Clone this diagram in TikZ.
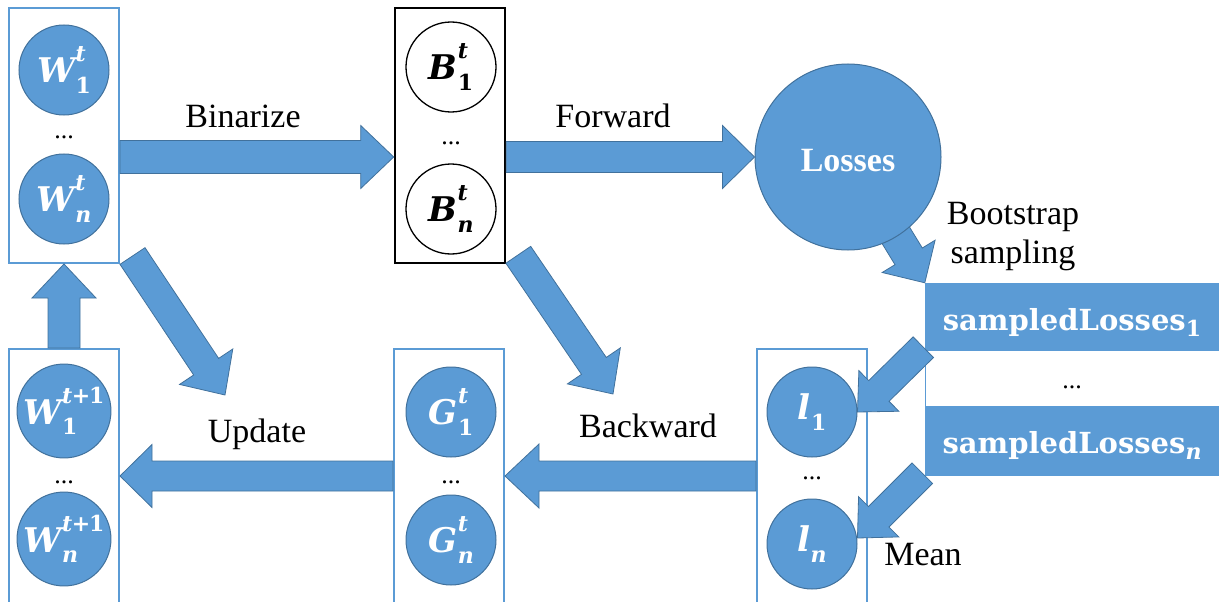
\documentclass[tikz,border=0pt]{standalone}
\usepackage{fontspec}
\setmainfont{Liberation Serif}
\newfontfamily\mfont{DejaVu Serif}
\usetikzlibrary{calc}

\definecolor{fillblue}{HTML}{5B9BD5}
\definecolor{edgeblue}{HTML}{41719C}
\definecolor{frameblue}{HTML}{5B9BD5}

% variable with superscript and subscript stacked on the right
\newcommand\mv[3]{%
  {\bfseries\itshape #1}\kern0.5pt
  \sbox0{\fontsize{22}{26}\selectfont\bfseries\itshape #2}%
  \sbox2{\fontsize{22}{26}\selectfont\bfseries\upshape #3}%
  \rlap{\raisebox{0.62em}{\usebox0}}\rlap{\raisebox{-0.3em}{\usebox2}}%
  \ifdim\wd0>\wd2 \kern\wd0\else\kern\wd2\fi}
\newcommand\plusone{\upshape\kern-0.5pt+\kern-1pt1}

% fat block arrow: from, to, shaft half width, head half width, head length
\newcommand\blockarrow[5]{%
  \coordinate (ba-s) at (#1);
  \coordinate (ba-t) at (#2);
  \coordinate (ba-h) at ($(ba-t)!#5!(ba-s)$);
  \filldraw[fatarrow]
    ($(ba-s)!#3!90:(ba-t)$) -- ($(ba-h)!#3!90:(ba-t)$) -- ($(ba-h)!#4!90:(ba-t)$)
    -- (ba-t) -- ($(ba-h)!#4!-90:(ba-t)$) -- ($(ba-h)!#3!-90:(ba-t)$)
    -- ($(ba-s)!#3!-90:(ba-t)$) -- cycle;}

\tikzset{
  colbox/.style={draw=frameblue, line width=2pt, minimum width=110pt, inner sep=0pt},
  binbox/.style={draw=black, line width=2.6pt, minimum width=110pt, inner sep=0pt},
  bcirc/.style={circle, fill=fillblue, draw=edgeblue, line width=1pt, minimum size=90pt,
    inner sep=0pt, text=white, font=\mfont\fontsize{34}{40}\selectfont},
  wcirc/.style={circle, draw=black, line width=1.3pt, minimum size=90pt,
    inner sep=0pt, text=black, font=\mfont\fontsize{34}{40}\selectfont},
  dotsnode/.style={inner sep=0pt, font=\fontsize{26}{30}\selectfont},
  lbl/.style={inner sep=0pt, anchor=base, font=\fontsize{34}{40}\selectfont},
  sampbox/.style={fill=fillblue, minimum width=294pt, inner sep=0pt, text=white,
    font=\mfont\bfseries\fontsize{29}{34}\selectfont},
  fatarrow/.style={fill=fillblue, draw=edgeblue, line width=0.8pt, line join=miter},
}

\begin{document}
\begin{tikzpicture}[x=1pt,y=-1pt]
\useasboundingbox (0,0) rectangle (1219,602);
\clip (0,0) rectangle (1219,602);

\coordinate (ytop) at (0,157);
\coordinate (ybot) at (0,476);

% column frames
\node[colbox, minimum height=255pt] (wtbox) at (64,135.5) {};
\node[binbox, minimum height=255pt] (bbox) at (450,135.5) {};
\node[colbox, minimum height=261pt] (wnbox) at (64,479.5) {};
\node[colbox, minimum height=261pt] (gbox) at (449,479.5) {};
\node[colbox, minimum height=261pt] (lbox) at (812,479.5) {};

% weights at step t
\node[bcirc] (wt1) at (64,70) {\mv{W}{t}{1}};
\node[dotsnode] (wtd) at (64,137) {...};
\node[bcirc] (wtn) at (64,199) {\mv{W}{t}{\itshape n}};

% binarized weights
\node[wcirc] (b1) at (451,67) {\mv{B}{t}{1}};
\node[dotsnode] (bd) at (451,143) {...};
\node[wcirc] (bn) at (451,209) {\mv{B}{t}{\itshape n}};

% weights at step t+1
\node[bcirc] (w11) at (64,411) {\mv{W}{t\plusone}{1}};
\node[dotsnode] (w1d) at (64,482) {...};
\node[bcirc] (w1n) at (64,539) {\mv{W}{t\plusone}{\itshape n}};

% gradients
\node[bcirc] (g1) at (451,412) {\mv{G}{t}{1}};
\node[dotsnode] (gd) at (451,482) {...};
\node[bcirc] (gn) at (451,540) {\mv{G}{t}{\itshape n}};

% per-sample losses
\node[bcirc] (l1) at (812,412) {\mv{l}{}{1}};
\node[dotsnode] (ld) at (812,478) {...};
\node[bcirc] (ln) at (812,544) {\mv{l}{}{\itshape n}};

% bootstrap samples
\node[sampbox, minimum height=67pt, text height=30pt, text depth=3pt] (s1) at (1072,316.5)
  {sampledLosses\raisebox{-0.22em}{\fontsize{22}{26}\selectfont 1}};
\node[draw=frameblue, line width=1pt, minimum width=294pt, minimum height=56pt, inner sep=0pt] (smid) at (1072,378) {};
\node[dotsnode] (sd) at (1072,387) {...};
\node[sampbox, minimum height=70pt, text height=27pt, text depth=3pt] (s2) at (1072,441)
  {sampledLosses\raisebox{-0.22em}{\fontsize{22}{26}\selectfont\itshape n}};

% loss node with the sampling arrow leaving it
\coordinate (lossc) at (848,157);
\blockarrow{lossc}{s1.north west}{16pt}{31pt}{31pt}
\node[bcirc, minimum size=186pt, text height=28pt, text depth=0pt,
  font=\bfseries\fontsize{34}{40}\selectfont] (loss) at (lossc) {Losses};

% flow arrows
\blockarrow{wtbox.east |- ytop}{bbox.west |- ytop}{16.5pt}{31.5pt}{33pt}
\blockarrow{bbox.east |- ytop}{loss.west}{15.5pt}{31.5pt}{32pt}
\blockarrow{wnbox.north}{wtbox.south}{16pt}{32pt}{34pt}
\coordinate (wupd) at (225,395);
\blockarrow{$(wtbox.south east)+(12.5,-8)$}{wupd}{15pt}{32pt}{34pt}
\coordinate (bupd) at (613,394);
\blockarrow{$(bbox.south east)+(12,-9.5)$}{bupd}{15pt}{32pt}{34pt}
\blockarrow{gbox.west |- ybot}{wnbox.east |- ybot}{15pt}{31.5pt}{32pt}
\blockarrow{lbox.west |- ybot}{gbox.east |- ybot}{15pt}{32pt}{34pt}
\blockarrow{$(s1.south west)+(-1.5,-3)$}{l1.east}{14.5pt}{28.5pt}{30pt}
\blockarrow{$(s2.south west)+(-2.5,-3)$}{$(ln.east)+(0,-6)$}{14.5pt}{28.5pt}{30pt}

% labels
\node[lbl] (tbin) at (243,127) {Binarize};
\node[lbl] (tfwd) at (613,127) {Forward};
\node[lbl] (tupd) at (257,442) {Update};
\node[lbl] (tbwd) at (648,437) {Backward};
\node[lbl] (tboot) at (1013,224) {Bootstrap};
\node[lbl] (tsamp) at (1013,263) {sampling};
\node[lbl] (tmean) at (923,565) {Mean};
\end{tikzpicture}
\end{document}
